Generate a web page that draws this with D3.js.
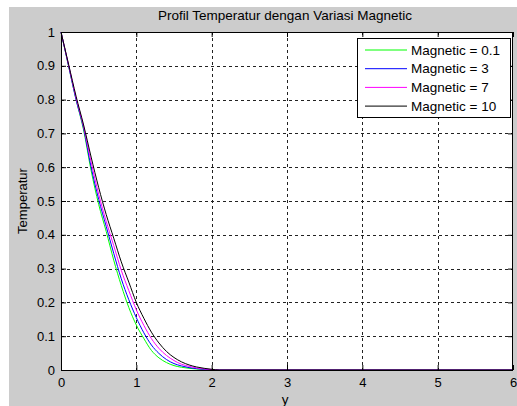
<!DOCTYPE html>
<html>
<head>
<meta charset="utf-8">
<script src="https://cdn.jsdelivr.net/npm/d3@7"></script>
<style>
  body { margin: 0; background: #fff; }
  svg { display: block; font-family: "Liberation Sans", Arial, sans-serif; }
</style>
</head>
<body>
<svg id="chart" width="517" height="406"></svg>
<script>
// y positions shared by all series
const yPos = [0, 0.1, 0.2, 0.3, 0.4, 0.5, 0.6, 0.7, 0.8, 0.9, 1.0, 1.1, 1.2, 1.3, 1.4, 1.5, 1.6, 1.7, 1.8, 1.9, 2.0, 2.1, 6];

const tempM01 = [1, 0.90, 0.80, 0.71, 0.59, 0.49, 0.41, 0.325, 0.25, 0.185, 0.133, 0.093, 0.058, 0.036, 0.022, 0.013, 0.008, 0.005, 0.003, 0.0015, 0.0005, 0, 0];
const tempM3 = [1, 0.90, 0.80, 0.715, 0.60, 0.505, 0.425, 0.345, 0.27, 0.208, 0.155, 0.11, 0.074, 0.049, 0.031, 0.019, 0.012, 0.007, 0.004, 0.002, 0.001, 0, 0];
const tempM7 = [1, 0.903, 0.805, 0.72, 0.615, 0.52, 0.44, 0.368, 0.295, 0.235, 0.178, 0.132, 0.093, 0.064, 0.043, 0.028, 0.017, 0.011, 0.006, 0.003, 0.0015, 0, 0];
const tempM10 = [1, 0.905, 0.81, 0.725, 0.63, 0.54, 0.46, 0.39, 0.32, 0.26, 0.20, 0.153, 0.112, 0.08, 0.055, 0.037, 0.024, 0.015, 0.009, 0.005, 0.002, 0, 0];

const seriesNames = ['Magnetic = 0.1', 'Magnetic = 3', 'Magnetic = 7', 'Magnetic = 10'];
const seriesColors = ['#00ff00', '#0000ff', '#ff00ff', '#000000'];
const seriesValues = [tempM01, tempM3, tempM7, tempM10];

const xTicks = [0, 1, 2, 3, 4, 5, 6];
const yTicks = [0, 0.1, 0.2, 0.3, 0.4, 0.5, 0.6, 0.7, 0.8, 0.9, 1];

const svg = d3.select('#chart');

// grey figure background (screenshot has a thin white strip top/left)
svg.append('rect').attr('x', 9).attr('y', 7).attr('width', 508).attr('height', 399).attr('fill', '#cccccc');

const pLeft = 61, pRight = 513, pTop = 32, pBottom = 370;
const xScale = d3.scaleLinear().domain([0, 6]).range([pLeft, pRight]);
const yScale = d3.scaleLinear().domain([0, 1]).range([pBottom, pTop]);

svg.append('rect')
  .attr('x', pLeft).attr('y', pTop)
  .attr('width', pRight - pLeft).attr('height', pBottom - pTop)
  .attr('fill', '#fff');

// dotted grid
const grid = svg.append('g');
grid.selectAll('line.gx').data(xTicks.slice(1, -1))
  .enter().append('line')
  .attr('x1', d => Math.round(xScale(d)) + 0.5).attr('x2', d => Math.round(xScale(d)) + 0.5)
  .attr('y1', pTop).attr('y2', pBottom)
  .attr('stroke', '#222').attr('stroke-dasharray', '3,3');
grid.selectAll('line.gy').data(yTicks.slice(1, -1))
  .enter().append('line')
  .attr('y1', d => Math.round(yScale(d)) + 0.5).attr('y2', d => Math.round(yScale(d)) + 0.5)
  .attr('x1', pLeft).attr('x2', pRight)
  .attr('stroke', '#222').attr('stroke-dasharray', '3,3');

// curves
const line = d3.line()
  .x(d => xScale(d[0]))
  .y(d => yScale(d[1]))
  .curve(d3.curveMonotoneX);

seriesValues.forEach((vals, i) => {
  svg.append('path')
    .attr('d', line(yPos.map((y, j) => [y, vals[j]])))
    .attr('fill', 'none')
    .attr('stroke', seriesColors[i])
    .attr('stroke-width', 1);
});

// axes: inward ticks on all four sides
const xAxis = d3.axisBottom(xScale).tickValues(xTicks).tickSize(-5).tickPadding(8).tickFormat(d3.format('d'));
const yAxis = d3.axisLeft(yScale).tickValues(yTicks).tickSize(-5).tickPadding(6).tickFormat(d => d === 0 || d === 1 ? d : d3.format('.1f')(d));
const xTop = d3.axisTop(xScale).tickValues(xTicks).tickSize(-5).tickFormat('');
const yRight = d3.axisRight(yScale).tickValues(yTicks).tickSize(-5).tickFormat('');

function styleAxis(g) {
  g.selectAll('path').remove();
  g.selectAll('line').attr('stroke', '#000');
  g.selectAll('text').attr('fill', '#000').style('font-size', '13px').style('font-family', '"Liberation Sans", Arial, sans-serif');
}

svg.append('g').attr('transform', `translate(0,${pBottom})`).call(xAxis).call(styleAxis);
svg.append('g').attr('transform', `translate(${pLeft},0)`).call(yAxis).call(styleAxis);
svg.append('g').attr('transform', `translate(0,${pTop})`).call(xTop).call(styleAxis);
svg.append('g').attr('transform', `translate(${pRight},0)`).call(yRight).call(styleAxis);

svg.append('rect')
  .attr('x', pLeft + 0.5).attr('y', pTop + 0.5)
  .attr('width', pRight - pLeft - 1).attr('height', pBottom - pTop)
  .attr('fill', 'none').attr('stroke', '#000');

// titles
svg.append('text').attr('x', (pLeft + pRight) / 2 - 2).attr('y', 20)
  .attr('text-anchor', 'middle').style('font-size', '13.5px').text('Profil Temperatur dengan Variasi Magnetic');
svg.append('text').attr('x', (pLeft + pRight) / 2 - 2).attr('y', 404)
  .attr('text-anchor', 'middle').style('font-size', '13.5px').text('y');
svg.append('text')
  .attr('transform', `translate(27,${(pTop + pBottom) / 2}) rotate(-90)`)
  .attr('text-anchor', 'middle').style('font-size', '13px').text('Temperatur');

// legend
const lg = svg.append('g').attr('transform', 'translate(357,38)');
lg.append('rect').attr('x', 0.5).attr('y', 0.5).attr('width', 153).attr('height', 79)
  .attr('fill', '#fff').attr('stroke', '#000');
seriesNames.forEach((name, i) => {
  const cy = 12 + i * 18.7;
  lg.append('line').attr('x1', 8).attr('x2', 50).attr('y1', cy).attr('y2', cy)
    .attr('stroke', seriesColors[i]);
  lg.append('text').attr('x', 54).attr('y', cy + 4.5).style('font-size', '13.5px').text(name);
});
</script>
</body>
</html>
